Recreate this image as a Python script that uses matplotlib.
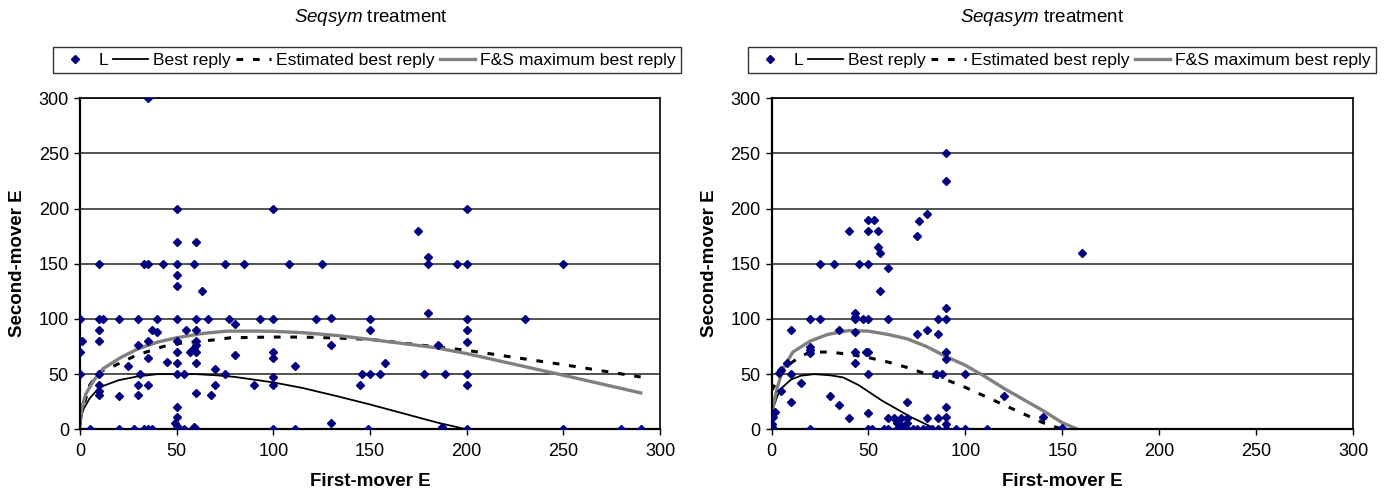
import matplotlib
matplotlib.use("Agg")
import matplotlib.pyplot as plt

plt.rcParams['font.family'] = ['Liberation Sans', 'DejaVu Sans']
plt.rcParams['mathtext.fontset'] = 'custom'
plt.rcParams['mathtext.rm'] = 'Liberation Sans'
plt.rcParams['mathtext.it'] = 'Liberation Sans:italic'

# ---- data ----
ticks = [0, 50, 100, 150, 200, 250, 300]

# Seqsym treatment: observed (first-mover E, second-mover E)
seqsym_L = [
    (35, 300),
    (50, 200), (100, 200), (200, 200),
    (175, 180), (50, 170), (60, 170),
    (10, 150), (33, 150), (35, 150), (43, 150), (50, 150), (59, 150), (75, 150), (85, 150),
    (108, 150), (125, 150), (180, 156), (180, 150), (195, 150), (200, 150), (250, 150),
    (50, 140), (50, 130), (63, 125), (180, 105),
    (0, 100), (10, 100), (12, 100), (20, 100), (30, 100), (40, 100), (50, 100), (60, 100),
    (66, 100), (77, 100), (93, 100), (100, 100), (122, 100), (130, 101), (150, 100),
    (200, 100), (230, 100),
    (80, 95),
    (10, 90), (37, 90), (40, 88), (55, 90), (60, 90), (150, 90), (200, 90),
    (1, 80), (10, 80), (35, 80), (50, 80), (60, 80), (200, 79),
    (60, 76), (59, 74), (60, 70), (57, 70), (0, 70), (30, 76), (50, 70), (130, 76), (185, 76),
    (100, 70), (100, 65), (35, 65), (80, 67), (25, 57), (45, 61), (50, 60), (60, 60),
    (111, 57), (70, 55), (158, 60),
    (0, 50), (10, 50), (31, 50), (50, 50), (54, 50), (75, 50), (100, 47), (146, 50),
    (150, 50), (155, 50), (178, 50), (189, 50), (200, 50),
    (10, 40), (30, 40), (35, 40), (70, 40), (90, 40), (100, 40), (145, 40), (200, 40),
    (10, 35), (10, 31), (20, 30), (30, 31), (60, 33), (68, 31),
    (50, 20), (50, 11), (49, 6), (50, 3), (130, 6),
    (5, 0), (20, 0), (28, 0), (33, 0), (35, 0), (37, 0), (54, 0), (59, 2), (60, 0),
    (100, 0), (111, 0), (149, 0), (187, 2), (200, 0), (250, 0), (280, 0), (290, 0),
]
seqsym_best = [(0, 0), (1, 14), (2, 19), (5, 28), (10, 38), (20, 44.5), (30, 48), (40, 50),
               (50, 50), (60, 50), (70, 49), (80, 47.5), (100, 42.5), (115, 37.5), (133, 30),
               (150, 22.5), (167, 14.5), (185, 6), (200, 0), (290, 0)]
seqsym_est = [(0, 10), (5, 40), (10, 52), (17, 57), (29, 67), (43, 75), (50, 77.6), (69, 81),
              (78, 83), (100, 83.6), (115, 83.6), (133, 82.7), (150, 81.5), (200, 71.6),
              (250, 58.6), (290, 47.4)]
seqsym_fs = [(0, 5), (1, 20), (3, 32), (7, 44), (12, 55), (21, 65), (30, 73), (40, 79), (50, 83),
             (64, 87), (76, 89), (91, 89), (100, 88.8), (115, 87.6), (133, 85), (150, 81.5),
             (184, 74), (200, 68.6), (250, 49), (290, 33)]

# Seqasym treatment
seqasym_L = [
    (90, 250), (90, 225), (80, 195), (76, 189), (75, 175), (50, 190), (53, 190), (40, 180),
    (50, 180), (55, 180), (55, 165), (56, 160), (160, 160),
    (25, 150), (32, 150), (45, 150), (50, 150), (60, 146),
    (56, 125),
    (90, 110), (43, 105), (43, 102), (20, 100), (25, 100), (43, 100), (47, 100), (50, 100),
    (60, 100), (86, 100), (90, 100),
    (10, 90), (35, 90), (43, 88), (80, 90), (75, 86), (86, 86),
    (20, 75), (20, 72), (20, 69), (43, 70), (49, 70), (50, 70), (90, 70), (90, 64), (43, 60),
    (8, 60), (5, 54), (4, 51),
    (10, 50), (50, 50), (85, 50), (88, 50), (100, 50),
    (15, 42), (5, 35), (10, 25), (30, 30), (35, 22), (70, 25), (120, 30),
    (90, 20), (50, 15), (2, 16), (1, 11), (0, 5), (0, 2),
    (40, 10), (60, 10), (63, 10), (67, 10), (70, 10), (80, 10), (86, 10), (90, 11), (140, 11),
    (65, 6), (67, 3), (70, 6), (90, 5),
    (20, 0), (50, 0), (52, 0), (58, 0), (60, 0), (65, 0), (67, 0), (70, 0), (73, 0), (75, 0),
    (78, 0), (80, 0), (83, 0), (86, 0), (90, 0), (95, 0), (100, 0), (111, 0), (150, 1),
]
seqasym_best = [(0, 8), (1, 20), (3, 30), (5, 37), (10, 45), (15, 48.5), (22, 50), (30, 49),
                (37, 47), (45, 40), (51, 33), (57, 26), (63, 20), (72, 11), (78, 6), (85, 0),
                (160, 0)]
seqasym_est = [(0, 35), (5, 50), (10, 60), (15, 66), (20, 70), (30, 70), (40, 68), (50, 65),
               (60, 61), (70, 56), (80, 50), (90, 45), (100, 38), (110, 30), (120, 22),
               (130, 14), (140, 6), (150, 0)]
seqasym_fs = [(0, 10), (1, 22), (3, 38), (6, 55), (11, 70), (20, 80), (29, 86), (40, 89.5),
              (50, 89), (60, 86), (70, 82), (80, 75), (90, 66), (100, 58), (110, 48), (120, 37),
              (130, 27), (140, 17), (150, 6), (158, 0)]

panels = [
    ("$\\mathit{Seqsym}$ treatment", seqsym_L, seqsym_best, seqsym_est, seqsym_fs),
    ("$\\mathit{Seqasym}$ treatment", seqasym_L, seqasym_best, seqasym_est, seqasym_fs),
]

W, H = 1399, 495
fig = plt.figure(figsize=(W / 100, H / 100), dpi=100)

# pixel boxes: (left, right, top, bottom)
boxes = [(80, 660, 98.3, 429.3), (771.5, 1353, 98.3, 429.3)]
title_x = [371, 1042]
legend_x = [367, 1062]
ylabel_x = [18, 710]
xlabel_x = [370, 1062]

navy = '#000080'
grey = '#808080'

for i, (title, pts, best, est, fs) in enumerate(panels):
    l, r, t, b = boxes[i]
    ax = fig.add_axes([l / W, 1 - b / H, (r - l) / W, (b - t) / H])

    for yv in ticks[1:]:
        ax.axhline(yv, color='#222222', lw=1.1, zorder=0)

    ax.plot([p[0] for p in best], [p[1] for p in best], color='black', lw=1.3, zorder=2,
            label='Best reply')
    ax.plot([p[0] for p in est], [p[1] for p in est], color='black', lw=2.2,
            linestyle=(0, (2.2, 3.2)), zorder=2, label='Estimated best reply')
    ax.plot([p[0] for p in fs], [p[1] for p in fs], color=grey, lw=2.4, zorder=2,
            label='F&S maximum best reply')
    ax.plot([p[0] for p in pts], [p[1] for p in pts], linestyle='none', marker='D',
            markersize=4.2, color=navy, zorder=3, label='L')

    ax.set_xlim(0, 300)
    ax.set_ylim(0, 300)
    ax.set_xticks(ticks)
    ax.set_yticks(ticks)
    ax.tick_params(direction='out', length=4, width=1, labelsize=13, pad=4, colors='black')
    ax.tick_params(axis='x', pad=6)
    for s in ax.spines.values():
        s.set_color('black')
        s.set_linewidth(1.2)
    ax.spines['left'].set_linewidth(1.6)
    ax.spines['bottom'].set_linewidth(1.6)

    h, lab = ax.get_legend_handles_labels()
    order = [3, 0, 1, 2]
    leg = ax.legend([h[k] for k in order], [lab[k] for k in order], loc='center',
                    bbox_to_anchor=(legend_x[i] / W, 1 - 60 / H), bbox_transform=fig.transFigure,
                    ncol=4, fontsize=12.6, frameon=True, fancybox=False, borderpad=0.3,
                    handlelength=2.0, handletextpad=0.3, columnspacing=0.3, borderaxespad=0)
    leg.get_frame().set_edgecolor('black')
    leg.get_frame().set_linewidth(1.0)

    fig.text(title_x[i] / W, 1 - 17 / H, title, ha='center', va='center', fontsize=13.5)
    fig.text(ylabel_x[i] / W, 1 - 263 / H, 'Second-mover E', rotation=90, ha='center',
             va='center', fontsize=13.5, fontweight='bold')
    fig.text(xlabel_x[i] / W, 1 - 482 / H, 'First-mover E', ha='center', va='center',
             fontsize=13.5, fontweight='bold')

fig.savefig('out.png', dpi=100)
